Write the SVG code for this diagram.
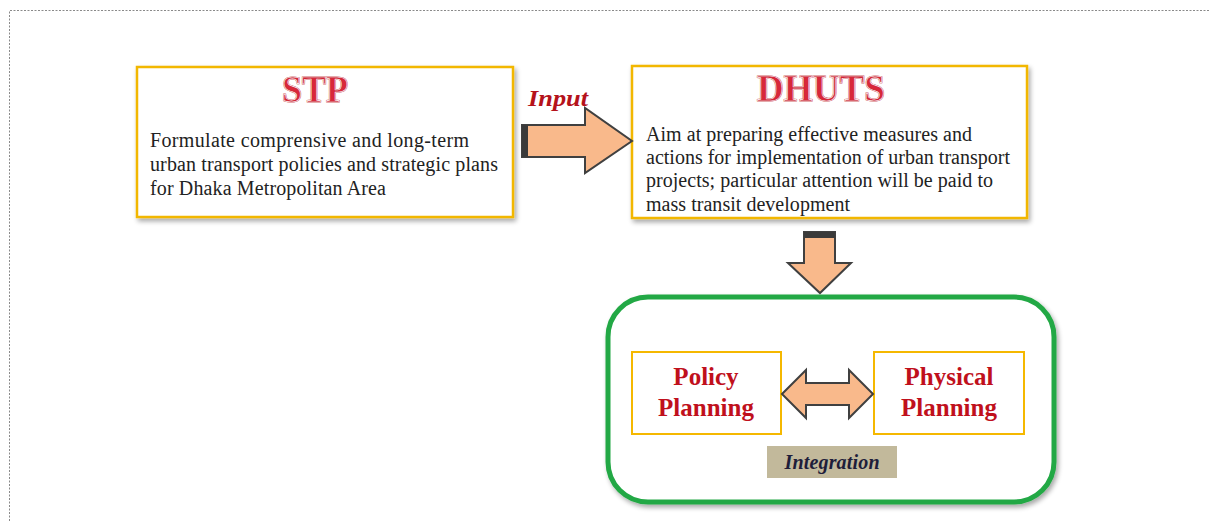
<svg xmlns="http://www.w3.org/2000/svg" width="1210" height="521" viewBox="0 0 1210 521">
  <style>
    .frame { fill: none; stroke: #8a8a8a; stroke-width: 1; stroke-dasharray: 2 1.5; }
    .card { fill: #ffffff; stroke: #f2b705; stroke-width: 2.5; }
    .inner { fill: #ffffff; stroke: #f5b800; stroke-width: 2; }
    .title { font-family: "Liberation Serif", serif; font-weight: bold; font-size: 38px; fill: #d8283a; stroke: #c01828; stroke-width: 1.2; text-anchor: middle; }
    .title-line { font-family: "Liberation Serif", serif; font-weight: bold; font-size: 38px; fill: none; stroke: #ffffff; stroke-width: 0.7; text-anchor: middle; }
    .body { font-family: "Liberation Serif", serif; font-size: 20px; fill: #222222; }
    .label { font-family: "Liberation Serif", serif; font-weight: bold; font-style: italic; font-size: 23px; fill: #b5121b; }
    .plan { font-family: "Liberation Serif", serif; font-weight: bold; font-size: 25px; fill: #c0101c; text-anchor: middle; }
    .arrow { fill: #f9b98b; stroke: #404040; stroke-width: 2; stroke-linejoin: miter; }
    .stripe { fill: #3a3a3a; }
    .group-box { fill: #ffffff; stroke: #22a844; stroke-width: 5; }
    .tag { fill: #c2b99b; }
    .tag-text { font-family: "Liberation Serif", serif; font-weight: bold; font-style: italic; font-size: 20px; fill: #1e1e3a; text-anchor: middle; }
  </style>
  <defs>
    <filter id="shadow" x="-10%" y="-10%" width="125%" height="130%">
      <feGaussianBlur in="SourceAlpha" stdDeviation="2.5"/>
      <feOffset dx="2" dy="3" result="b"/>
      <feComponentTransfer><feFuncA type="linear" slope="0.35"/></feComponentTransfer>
      <feMerge><feMergeNode/><feMergeNode in="SourceGraphic"/></feMerge>
    </filter>
  </defs>

  <rect width="1210" height="521" fill="#ffffff"/>
  <!-- dotted page frame -->
  <path class="frame" d="M9.5 521 V10.5 H1210"/>

  <g id="stp">
    <rect class="card" x="137" y="67" width="376" height="150" filter="url(#shadow)"/>
    <text class="title" x="315" y="102" textLength="66" lengthAdjust="spacingAndGlyphs">STP</text>
    <text class="title-line" x="315" y="102" textLength="66" lengthAdjust="spacingAndGlyphs">STP</text>
    <text class="body" x="150" y="147" textLength="319">Formulate  comprensive  and long-term</text>
    <text class="body" x="150" y="171" textLength="348">urban  transport policies and strategic plans</text>
    <text class="body" x="150" y="195" textLength="236">for Dhaka Metropolitan Area</text>
  </g>

  <g id="dhuts">
    <rect class="card" x="632" y="66" width="395" height="152" filter="url(#shadow)"/>
    <text class="title" x="821" y="101" textLength="128" lengthAdjust="spacingAndGlyphs">DHUTS</text>
    <text class="title-line" x="821" y="101" textLength="128" lengthAdjust="spacingAndGlyphs">DHUTS</text>
    <text class="body" x="646" y="141" textLength="326">Aim at preparing effective measures and</text>
    <text class="body" x="646" y="164" textLength="364">actions for implementation of urban transport</text>
    <text class="body" x="646" y="187" textLength="347">projects; particular attention will be paid to</text>
    <text class="body" x="646" y="211" textLength="204">mass transit development</text>
  </g>

  <g id="integration-group">
    <rect class="group-box" x="608" y="297" width="446" height="205" rx="40" ry="40" filter="url(#shadow)"/>
  </g>

  <g id="policy-planning">
    <rect class="inner" x="632" y="352" width="149" height="82"/>
    <text class="plan" x="706" y="385">Policy</text>
    <text class="plan" x="706" y="416">Planning</text>
  </g>

  <g id="physical-planning">
    <rect class="inner" x="874" y="352" width="150" height="82"/>
    <text class="plan" x="949" y="385">Physical</text>
    <text class="plan" x="949" y="416">Planning</text>
  </g>

  <g id="integration-tag">
    <rect class="tag" x="767" y="446" width="130" height="32"/>
    <text class="tag-text" x="832" y="469" textLength="95">Integration</text>
  </g>

  <g id="connectors">
    <!-- STP to DHUTS -->
    <path class="arrow" d="M522 125 H585 V108 L632 141 L585 173 V157 H522 Z"/>
    <rect class="stripe" x="522" y="125" width="6" height="32"/>
    <text class="label" x="528" y="106" textLength="60" lengthAdjust="spacingAndGlyphs">Input</text>

    <!-- DHUTS down to the planning group -->
    <path class="arrow" d="M804 232 H835 V263 H851 L820 293 L788 263 H804 Z"/>
    <rect class="stripe" x="804" y="232" width="31" height="6"/>

    <!-- two-way link between policy and physical planning -->
    <path class="arrow" d="M782 394 L806 370 V383 H849 V370 L873 394 L849 418 V405 H806 V418 Z"/>
  </g>
</svg>
